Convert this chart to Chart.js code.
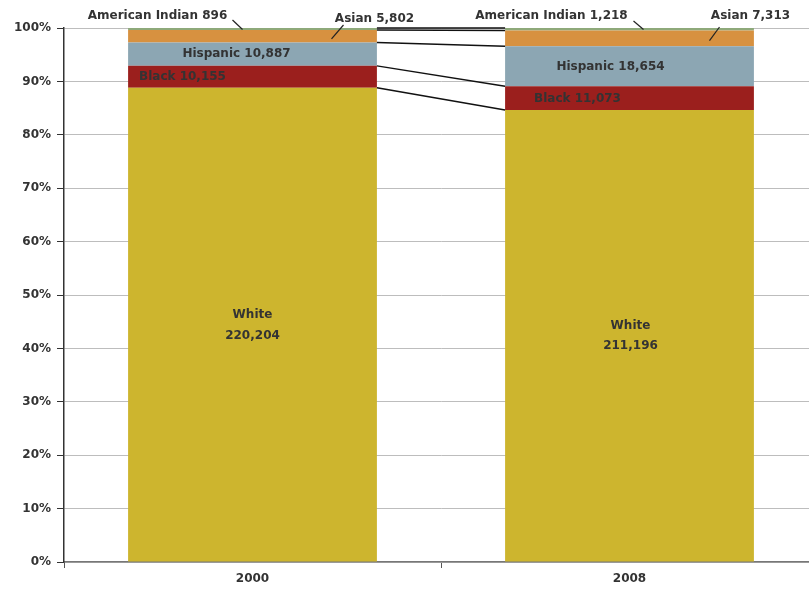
<!DOCTYPE html>
<html>
<head>
<meta charset="utf-8">
<script src="https://cdn.jsdelivr.net/npm/chart.js@4/dist/chart.umd.min.js"></script>
<style>
  html, body { margin: 0; padding: 0; background: #ffffff; overflow: hidden; }
  #wrap { width: 822px; height: 595px; position: relative; }
</style>
</head>
<body>
<div id="wrap"><canvas id="c" width="822" height="595"></canvas></div>
<script>
// ---- data ----
const years = ['2000', '2008'];
const groupNames = ['White', 'Black', 'Hispanic', 'Asian', 'American Indian'];
const white = [220204, 211196];
const black = [10155, 11073];
const hispanic = [10887, 18654];
const asian = [5802, 7313];
const americanIndian = [896, 1218];
const yTickLabels = ['0%', '10%', '20%', '30%', '40%', '50%', '60%', '70%', '80%', '90%', '100%'];

// ---- styles / layout (kept separate from data) ----
const colors = ['#CDB52E', '#9B1F1D', '#8CA6B3', '#D79140', '#8EA97A'];
const labelFont = 'bold 12px "DejaVu Sans"';
const textColor = '#333333';

const counts = [white, black, hispanic, asian, americanIndian];
const totals = years.map((_, j) => counts.reduce((s, arr) => s + arr[j], 0));
const shares = counts.map(arr => arr.map((v, j) => v / totals[j] * 100));

// label placement: offsets relative to each bar element
const insideLabels = [
  { ds: 2, bar: 0, dx: -16, dy: 0 },
  { ds: 1, bar: 0, dx: -70, dy: 0 },
  { ds: 2, bar: 1, dx: -19, dy: 1 },
  { ds: 1, bar: 1, dx: -52, dy: 1 }
];
const whiteLabels = [
  { bar: 0, dx: 0, dy1: -10, dy2: 11 },
  { bar: 1, dx: 1, dy1: -10, dy2: 10 }
];
// outside labels: text dx from bar centre, ty relative to chart top; leader from (l1x, l1y rel. top) to (l2x, segment top + l2y)
const outsideLabels = [
  { ds: 4, bar: 0, dx: -95, ty: -12, l1x: -20, l1y: -8, l2x: -10, l2y: 1.5 },
  { ds: 3, bar: 0, dx: 122, ty: -9, l1x: 91, l1y: -3, l2x: 79, l2y: 9 },
  { ds: 4, bar: 1, dx: -78, ty: -12, l1x: 4, l1y: -7, l2x: 14, l2y: 1.5 },
  { ds: 3, bar: 1, dx: 121, ty: -12, l1x: 90, l1y: -1, l2x: 80, l2y: 10 }
];

const fmt = v => v.toLocaleString('en-US');

const annotPlugin = {
  id: 'annot',
  afterDatasetsDraw(chart) {
    const ctx = chart.ctx;
    const metas = groupNames.map((_, i) => chart.getDatasetMeta(i));
    const top = chart.chartArea.top;
    ctx.save();
    // series lines between bars
    ctx.strokeStyle = '#111111';
    ctx.lineWidth = 1.5;
    metas.forEach(meta => {
      const a = meta.data[0], b = meta.data[1];
      ctx.beginPath();
      ctx.moveTo(a.x + a.width / 2, a.y);
      ctx.lineTo(b.x - b.width / 2, b.y);
      ctx.stroke();
    });
    ctx.font = labelFont;
    ctx.fillStyle = textColor;
    ctx.textAlign = 'center';
    ctx.textBaseline = 'middle';
    insideLabels.forEach(l => {
      const el = metas[l.ds].data[l.bar];
      ctx.fillText(groupNames[l.ds] + ' ' + fmt(counts[l.ds][l.bar]), el.x + l.dx, (el.y + el.base) / 2 + l.dy);
    });
    whiteLabels.forEach(l => {
      const el = metas[0].data[l.bar];
      const cy = (el.y + el.base) / 2;
      ctx.fillText(groupNames[0], el.x + l.dx, cy + l.dy1);
      ctx.fillText(fmt(counts[0][l.bar]), el.x + l.dx, cy + l.dy2);
    });
    ctx.lineWidth = 1.2;
    ctx.strokeStyle = '#222222';
    outsideLabels.forEach(l => {
      const el = metas[l.ds].data[l.bar];
      ctx.fillText(groupNames[l.ds] + ' ' + fmt(counts[l.ds][l.bar]), el.x + l.dx, top + l.ty);
      ctx.beginPath();
      ctx.moveTo(el.x + l.l1x, top + l.l1y);
      ctx.lineTo(el.x + l.l2x, el.y + l.l2y);
      ctx.stroke();
    });
    ctx.restore();
  }
};

new Chart(document.getElementById('c'), {
  type: 'bar',
  data: {
    labels: years,
    datasets: groupNames.map((name, i) => ({
      label: name,
      data: shares[i],
      backgroundColor: colors[i],
      borderWidth: 0,
      categoryPercentage: 1.0,
      barPercentage: 0.66
    }))
  },
  options: {
    responsive: false,
    animation: false,
    devicePixelRatio: 1,
    layout: { padding: { top: 28, right: 4, left: 0, bottom: 0 } },
    plugins: { legend: { display: false }, tooltip: { enabled: false } },
    scales: {
      x: {
        stacked: true,
        grid: { display: true, drawOnChartArea: false, drawTicks: true, tickLength: 6, color: '#555555', offset: true },
        border: { display: true, color: '#777777', width: 1.5 },
        ticks: { font: { family: 'DejaVu Sans', size: 12, weight: 'bold' }, color: textColor, padding: 4 },
        afterFit(s) { s.height = 33; s.paddingLeft = 0; s.paddingRight = 0; }
      },
      y: {
        stacked: true,
        min: 0, max: 100,
        ticks: {
          stepSize: 10,
          font: { family: 'DejaVu Sans', size: 12, weight: 'bold' },
          color: textColor,
          padding: 6,
          callback: (v) => yTickLabels[Math.round(v / 10)]
        },
        grid: { color: '#BDBDBD', lineWidth: 1, tickLength: 7, tickColor: '#333333' },
        border: { display: true, color: '#333333', width: 1.5 },
        afterFit(s) { s.width = 64; s.paddingTop = 0; s.paddingBottom = 0; }
      }
    }
  },
  plugins: [annotPlugin]
});
</script>
</body>
</html>
